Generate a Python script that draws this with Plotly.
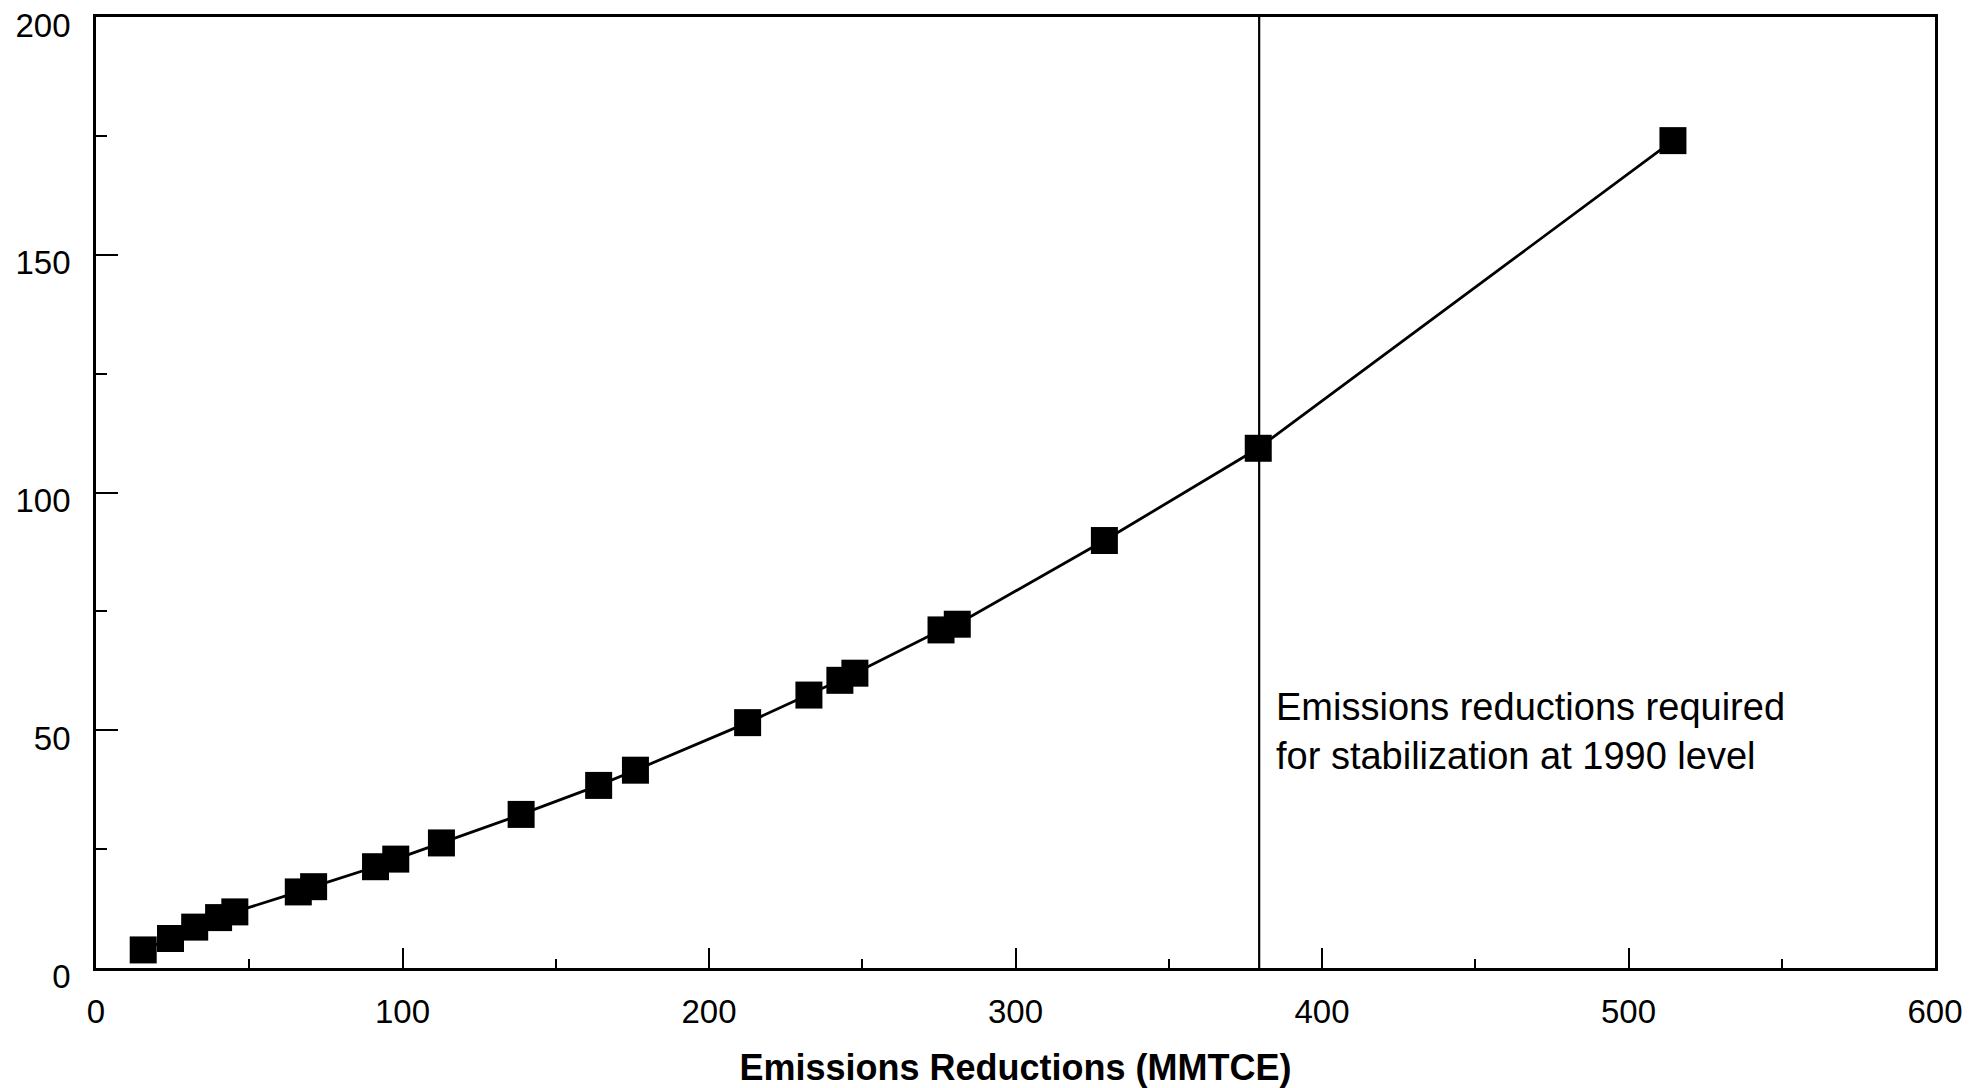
import plotly.graph_objects as go

# Data
emissions_reductions = [15.4, 24.3, 32.2, 40.0, 45.3, 66.0, 71.0, 91.2, 97.8, 112.7,
                        138.7, 164.0, 176.0, 212.6, 232.6, 242.7, 247.6, 275.7, 281.0,
                        329.0, 379.2, 514.5]
cost_values = [3.8, 6.2, 8.6, 10.6, 11.8, 16.0, 17.1, 21.3, 22.9, 26.3,
               32.3, 38.4, 41.6, 51.6, 57.4, 60.5, 62.0, 71.1, 72.3,
               89.9, 109.3, 174.0]
stabilization_level = 379.5
x_ticks = [0, 100, 200, 300, 400, 500, 600]
y_ticks = [0, 50, 100, 150, 200]
annotation_text = "Emissions reductions required<br>for stabilization at 1990 level"
x_title = "Emissions Reductions (MMTCE)"

FONT = "Liberation Sans, Arial, sans-serif"

fig = go.Figure()

fig.add_trace(go.Scatter(
    x=[stabilization_level, stabilization_level], y=[0, 200],
    mode="lines", line=dict(color="black", width=2.2),
    showlegend=False, hoverinfo="skip"))

fig.add_trace(go.Scatter(
    x=emissions_reductions, y=cost_values,
    mode="lines+markers",
    line=dict(color="black", width=2.8),
    marker=dict(symbol="square", size=27, color="black"),
    showlegend=False))

fig.add_annotation(
    x=384.5, y=49.8, xref="x", yref="y",
    text=annotation_text, showarrow=False,
    xanchor="left", yanchor="middle", align="left",
    font=dict(family=FONT, size=38, color="black"))

fig.update_xaxes(
    range=[0, 600], tickvals=x_ticks, ticktext=[str(v) for v in x_ticks],
    showline=True, mirror=True, linecolor="black", linewidth=2.8,
    ticks="inside", ticklen=20, tickwidth=1.5, tickcolor="black",
    minor=dict(ticks="inside", dtick=50, tick0=0, ticklen=9, tickwidth=1.5, tickcolor="black"),
    showgrid=False, zeroline=False,
    tickfont=dict(family=FONT, size=33, color="black"),
    title=dict(text="<b>" + x_title + "</b>", font=dict(family=FONT, size=36, color="black"), standoff=30),
    ticklabelstandoff=12,
    ticklabeloverflow="allow",
    automargin=False,
)
fig.update_yaxes(
    range=[0, 200], tickvals=y_ticks, ticktext=[str(v) for v in y_ticks],
    showline=True, mirror=True, linecolor="black", linewidth=2.8,
    ticks="inside", ticklen=22, tickwidth=1.5, tickcolor="black",
    minor=dict(ticks="inside", dtick=25, tick0=0, ticklen=11, tickwidth=1.5, tickcolor="black"),
    showgrid=False, zeroline=False,
    tickfont=dict(family=FONT, size=33, color="black"),
    ticklabelstandoff=16,
    ticklabelshift=8,
    ticklabeloverflow="allow",
    automargin=False,
)

fig.update_layout(
    width=1986, height=1088,
    margin=dict(l=96, r=51, t=17, b=120),
    plot_bgcolor="white", paper_bgcolor="white",
    font=dict(family=FONT, color="black"),
)

fig.write_html("out.html")
